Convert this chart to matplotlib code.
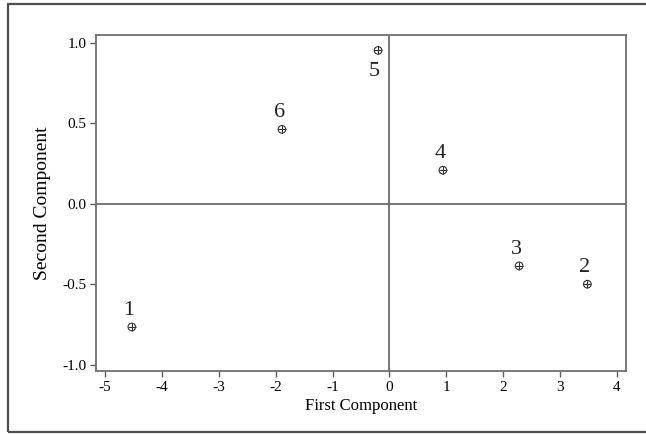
import matplotlib.pyplot as plt
from matplotlib.patches import Rectangle

# datos
etiquetas = ['1', '2', '3', '4', '5', '6']
primer_comp = [-4.53, 3.48, 2.28, 0.94, -0.20, -1.89]
segundo_comp = [-0.766, -0.50, -0.386, 0.209, 0.954, 0.463]
ticks_x = [-5, -4, -3, -2, -1, 0, 1, 2, 3, 4]
ticks_y = [-1.0, -0.5, 0.0, 0.5, 1.0]

plt.rcParams['font.family'] = ['Liberation Serif', 'DejaVu Serif']

fig = plt.figure(figsize=(6.46, 4.34), dpi=100)
W, H = 646, 434
ax = fig.add_axes([96 / W, 1 - 371 / H, (626 - 96) / W, (371 - 35) / H])

# marco exterior de la imagen
fig.patches.append(Rectangle((8 / W, 1 - 432 / H), 1.0, (432 - 4) / H,
                             transform=fig.transFigure, fill=False,
                             edgecolor='#505050', linewidth=1.6))

ax.axhline(0, color='#606060', linewidth=1.2, zorder=1)
ax.axvline(0, color='#606060', linewidth=1.2, zorder=1)

ax.scatter(primer_comp, segundo_comp, s=30, facecolors='none',
           edgecolors='#333333', linewidths=0.8, zorder=3)
ax.scatter(primer_comp, segundo_comp, s=30, marker='+', c='#333333',
           linewidths=0.8, zorder=3)

for etq, x, y in zip(etiquetas, primer_comp, segundo_comp):
    if etq == '5':
        ax.annotate(etq, (x, y), xytext=(-3, -8), textcoords='offset points',
                    ha='center', va='top', fontsize=16, color='#222222')
    else:
        ax.annotate(etq, (x, y), xytext=(-2, 5), textcoords='offset points',
                    ha='center', va='bottom', fontsize=16, color='#222222')

ax.set_xlim(-5.16, 4.16)
ax.set_ylim(-1.04, 1.05)
ax.set_xticks(ticks_x)
ax.set_xticklabels([str(t) for t in ticks_x])
ax.set_yticks(ticks_y)
ax.set_yticklabels(['%.1f' % t for t in ticks_y])
ax.tick_params(labelsize=11, length=4, width=1, color='#606060', pad=3)

for lado in ax.spines.values():
    lado.set_color('#707070')
    lado.set_linewidth(1.3)

ax.set_xlabel('First Component', fontsize=12, labelpad=3)
ax.set_ylabel('Second Component', fontsize=14, labelpad=8)

fig.savefig('out.png', dpi=100)
